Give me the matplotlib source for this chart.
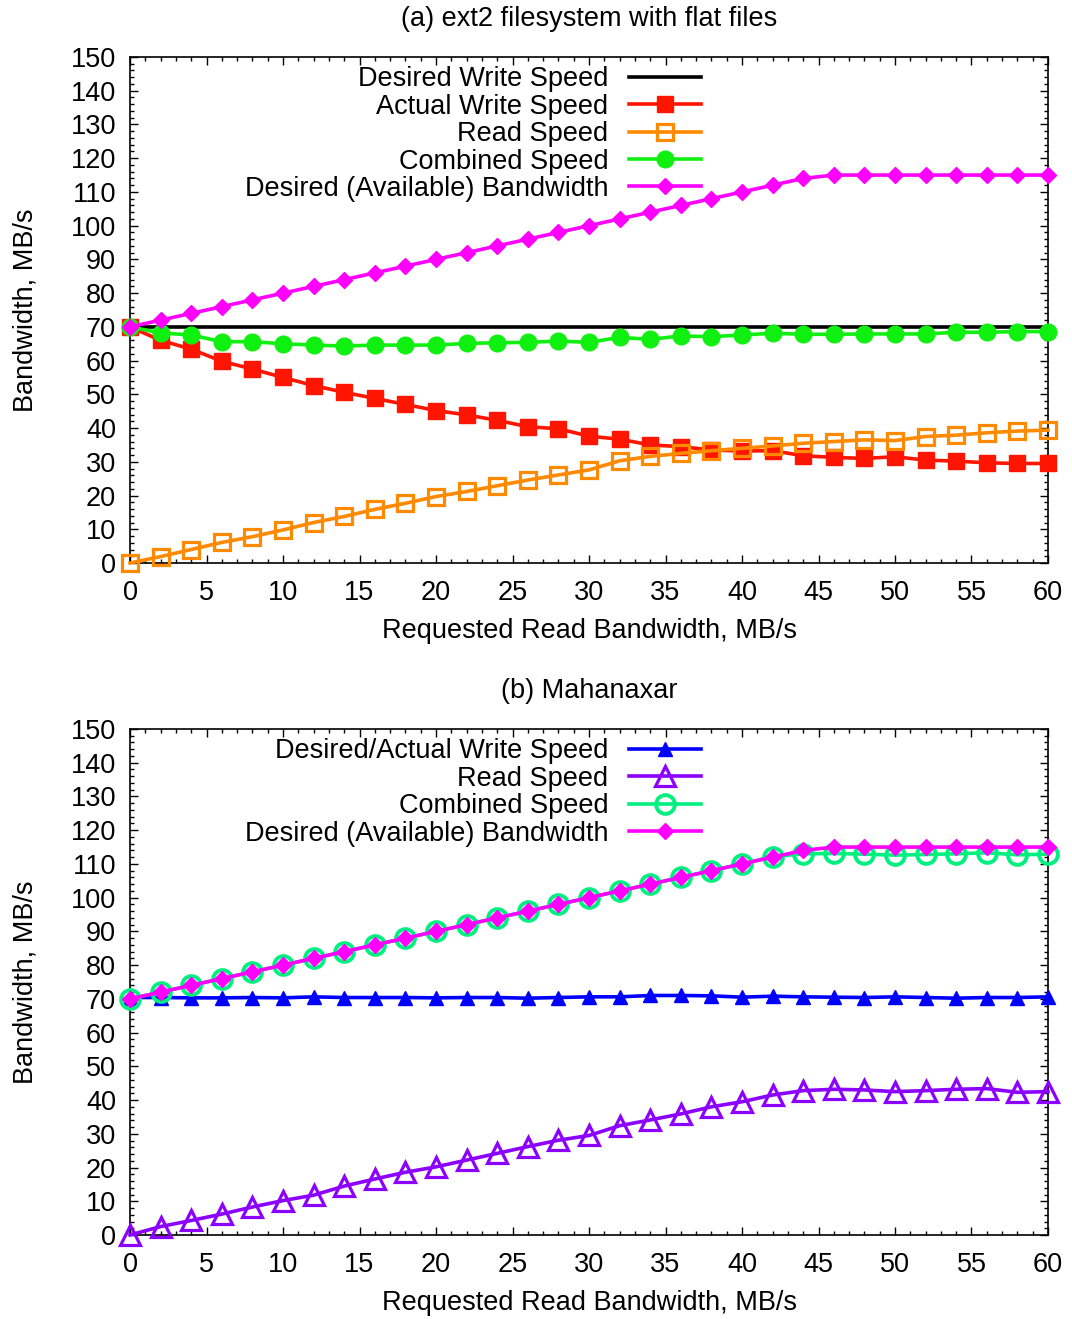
import matplotlib
matplotlib.use("Agg")
import matplotlib.pyplot as plt
from matplotlib.ticker import MultipleLocator

plt.rcParams['font.family'] = ['Liberation Sans', 'DejaVu Sans']
plt.rcParams['font.size'] = 19.5

# requested read bandwidth, MB/s
req = list(range(0, 61, 2))

# (a) ext2 filesystem with flat files
desired_write_a = [70] * 31
actual_write_a = [70, 66, 63.4, 59.8, 57.5, 55, 52.6, 50.6, 48.8, 47, 45.2,
                  43.9, 42.3, 40.4, 39.8, 37.6, 36.7, 35, 34.5, 33.5, 33.2,
                  33.3, 31.8, 31.3, 31, 31.5, 30.5, 30.2, 29.7, 29.5, 29.5]
read_a = [0, 1.9, 4, 6.1, 7.8, 9.8, 12, 13.8, 15.9, 17.7, 19.7,
          21.2, 22.9, 24.6, 26.1, 27.6, 30.3, 31.6, 32.5, 33.3, 34,
          34.7, 35.5, 36, 36.5, 36.3, 37.5, 37.9, 38.6, 39.1, 39.4]
combined_a = [70, 68.2, 67.6, 65.6, 65.6, 65, 64.6, 64.3, 64.6, 64.6, 64.6,
              65.1, 65.3, 65.4, 65.8, 65.4, 66.9, 66.3, 67.3, 67.1, 67.6,
              68.1, 67.8, 67.8, 67.9, 67.9, 67.9, 68.4, 68.4, 68.6, 68.6]
available = [70, 72, 74, 76, 78, 80, 82, 84, 86, 88, 90,
             92, 94, 96, 98, 100, 102, 104, 106, 108, 110,
             112, 114, 115, 115, 115, 115, 115, 115, 115, 115]

# (b) Mahanaxar
write_b = [70.4, 70.4, 70.3, 70.3, 70.4, 70.3, 70.6, 70.4, 70.4, 70.4, 70.3,
           70.4, 70.4, 70.2, 70.4, 70.6, 70.6, 71, 71, 70.9, 70.5,
           70.8, 70.6, 70.5, 70.4, 70.6, 70.4, 70.2, 70.4, 70.4, 70.6]
read_b = [0, 2.5, 4.3, 6.2, 8.3, 10.2, 11.8, 14.5, 16.6, 18.6, 20.2,
          22.2, 24.2, 26.2, 28.1, 29.5, 32.4, 34.1, 35.9, 38, 39.5,
          41.5, 42.8, 43.2, 43, 42.5, 42.8, 43.2, 43.4, 42.3, 42.5]
combined_b = [70, 72, 74, 76, 78, 80, 82, 84, 86, 88, 90,
              92, 94, 96, 98, 100, 102, 104, 106, 108, 110,
              112.2, 113, 113.1, 112.9, 112.6, 112.8, 113, 113.3, 112.7, 112.9]

fig = plt.figure(figsize=(10.72, 13.19), dpi=100)
ax1 = fig.add_axes([130 / 1072, 1 - 563 / 1319, 918 / 1072, 506 / 1319])
ax2 = fig.add_axes([130 / 1072, 1 - 1235 / 1319, 918 / 1072, 506 / 1319])

lw = 2.6
ax1.plot(req, desired_write_a, color="black", lw=lw, label="Desired Write Speed", zorder=2)
ax1.plot(req, actual_write_a, color="#ff1500", lw=lw, marker="s", ms=12,
         label="Actual Write Speed", zorder=3, clip_on=False)
ax1.plot(req, read_a, color="#ff8a00", lw=lw, marker="s", ms=12, mfc="none",
         mew=2.3, label="Read Speed", zorder=3, clip_on=False)
ax1.plot(req, combined_a, color="#10f010", lw=lw, marker="o", ms=12,
         label="Combined Speed", zorder=3, clip_on=False)
ax1.plot(req, available, color="#ff00ff", lw=lw, marker="D", ms=8.5,
         label="Desired (Available) Bandwidth", zorder=4, clip_on=False)
ax1.set_title("(a) ext2 filesystem with flat files", fontsize=19.5, pad=22)

ax2.plot(req, write_b, color="#0000ff", lw=lw, marker="^", ms=10,
         label="Desired/Actual Write Speed", zorder=3, clip_on=False)
ax2.plot(req, read_b, color="#8c00ff", lw=lw, marker="^", ms=14, mfc="none",
         mew=2.3, label="Read Speed", zorder=3, clip_on=False)
ax2.plot(req, combined_b, color="#00f080", lw=lw, marker="o", ms=13.5, mfc="none",
         mew=2.8, label="Combined Speed", zorder=3, clip_on=False)
ax2.plot(req, available, color="#ff00ff", lw=lw, marker="D", ms=8.5,
         label="Desired (Available) Bandwidth", zorder=4, clip_on=False)
ax2.set_title("(b) Mahanaxar", fontsize=19.5, pad=22)

for ax in (ax1, ax2):
    ax.set_xlim(0, 60)
    ax.set_ylim(0, 150)
    ax.xaxis.set_major_locator(MultipleLocator(5))
    ax.xaxis.set_minor_locator(MultipleLocator(1))
    ax.yaxis.set_major_locator(MultipleLocator(10))
    ax.yaxis.set_minor_locator(MultipleLocator(2))
    ax.tick_params(which="both", direction="in", top=True, right=True, width=1)
    ax.tick_params(which="major", length=6, labelsize=19.5)
    ax.tick_params(axis="x", which="major", pad=12)
    ax.tick_params(axis="y", which="major", pad=10)
    ax.tick_params(which="minor", length=3)
    for s in ax.spines.values():
        s.set_linewidth(1.2)
    ax.set_xlabel("Requested Read Bandwidth, MB/s", fontsize=19.5, labelpad=9)
    ax.set_ylabel("Bandwidth, MB/s", fontsize=19.5, labelpad=23)
    ax.legend(loc="upper right", bbox_to_anchor=(0.632, 1.0), frameon=False,
              markerfirst=False, handlelength=2.65, handletextpad=0.75,
              labelspacing=0.05, borderaxespad=0.15, borderpad=0.2,
              fontsize=19.5)

fig.savefig("out.png", dpi=100)
